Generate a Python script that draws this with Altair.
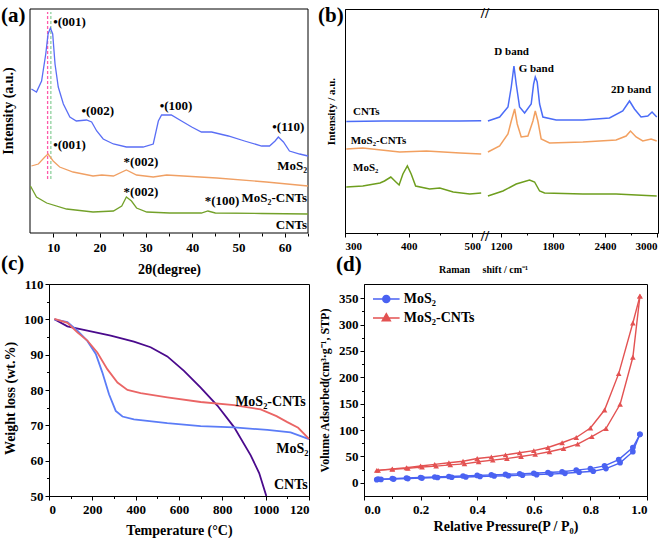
import altair as alt
import pandas as pd

SERIF = "Liberation Serif"

# ---------------- (a) XRD patterns ----------------
xrd_x_mos2 = [5.3, 6.4, 7.5, 8.4, 8.9, 9.4, 9.9, 10.4, 11.1, 12.2, 13.6, 15.0, 17.2, 18.3, 19.4, 20.8, 23.0, 25.8, 29.4, 31.6, 32.7, 33.4, 35.5, 37.7, 39.9, 42.0, 44.2, 47.8, 51.3, 55.0, 56.7, 57.9, 58.6, 59.7, 61.0, 63.2, 65.0]
xrd_y_mos2 = [143, 140, 151, 178, 198, 204, 198, 168, 145, 128, 115, 111, 112, 110, 101, 93, 88, 85, 85, 88, 111, 117, 117, 111, 105, 100, 100, 96, 91, 86, 86, 91, 95, 90, 81, 78, 76]
xrd_x_comp = [5.3, 6.8, 8.2, 8.9, 10.0, 11.4, 14.3, 18.6, 20.5, 23.0, 25.8, 28.0, 31.6, 34.5, 45.3, 56.0, 65.0]
xrd_y_comp = [66, 68, 75, 78, 71, 65, 60, 56, 57, 56, 62, 57, 55, 57, 54, 50, 46]
xrd_x_cnt = [5.1, 6.4, 8.6, 12.9, 18.6, 23.0, 24.8, 25.8, 26.9, 28.0, 30.2, 35.1, 42.0, 43.4, 45.0, 55.0, 65.0]
xrd_y_cnt = [46, 35, 29, 23, 20, 21, 26, 35, 31, 24, 20, 19, 19, 21, 19, 18.5, 18]
xrd_ref_x = [8.8, 9.5]
xrd_ref_y = [53, 220]
xrd_peak_text = ["•(001)", "•(002)", "•(100)", "•(110)", "•(001)", "*(002)", "*(002)", "*(100)"]
xrd_peak_x = [10.0, 16.1, 33.0, 57.3, 10.0, 25.2, 25.2, 42.7]
xrd_peak_y = [210, 121, 126, 105, 87, 70, 40, 31]
xrd_names = ["MoS₂", "MoS₂-CNTs", "CNTs"]
xrd_name_x = [64.8, 64.8, 64.8]
xrd_name_y = [66, 34, 7]
xrd_domain_x = [5, 65]
xrd_domain_y = [-1, 223]

# ---------------- (b) Raman spectra ----------------
ram_cnt_lx = [302, 360, 420, 480, 514]
ram_cnt_ly = [110.5, 111, 111, 111, 111.3]
ram_cnt_rx = [1050, 1185, 1281, 1319, 1350, 1376, 1415, 1473, 1549, 1577, 1596, 1618, 1646, 1684, 1837, 2145, 2452, 2605, 2683, 2740, 2816, 2894, 2943, 2997]
ram_cnt_ry = [111, 115, 125, 145, 166, 148, 125, 119, 128, 148, 155, 150, 128, 115, 112, 112, 114, 121, 131, 123, 115, 116, 120, 115]
ram_comp_lx = [302, 328, 386, 428, 481, 514]
ram_comp_ly = [83, 84, 80, 81, 79, 78]
ram_comp_rx = [1050, 1185, 1281, 1319, 1358, 1388, 1434, 1511, 1569, 1596, 1626, 1664, 1761, 2145, 2528, 2644, 2694, 2759, 2836, 2932, 2997]
ram_comp_ry = [80, 86, 98, 111, 123, 108, 95, 96, 111, 121, 111, 93, 89, 90, 92, 96, 101, 95, 91, 93, 91]
ram_mos2_lx = [302, 328, 355, 362, 372, 380, 385, 391, 398, 404, 411, 433, 449, 470, 496, 514]
ram_mos2_ly = [45, 46, 49, 51, 55, 50, 47, 58, 66, 58, 46, 43, 44, 40, 38, 39]
ram_mos2_rx = [1050, 1223, 1376, 1530, 1588, 1646, 1703, 2145, 2528, 2997]
ram_mos2_ry = [36, 41, 48, 52, 50, 41, 39, 38, 38, 36]
ram_names = ["CNTs", "MoS₂-CNTs", "MoS₂"]
ram_name_x = [312.6, 309, 312.6]
ram_name_y = [120.5, 91, 64]
ram_band_text = ["D band", "G band", "2D band"]
ram_band_x = [1323, 1607, 2701]
ram_band_y = [180, 163, 142]
ram_break_x = [520, 520]
ram_break_y = [219, -4]

# ---------------- (c) TGA ----------------
tga_mos2_x = [25, 85, 131, 177, 216, 246, 277, 308, 339, 392, 546, 700, 854, 1008, 1115, 1200]
tga_mos2_y = [100, 99.2, 96.8, 93.9, 90.2, 85, 78.8, 74.1, 72.5, 71.7, 70.6, 69.8, 69.4, 68.7, 68.0, 66.1]
tga_comp_x = [25, 85, 131, 177, 223, 269, 316, 362, 423, 546, 700, 854, 977, 1050, 1100, 1150, 1200]
tga_comp_y = [100.1, 99.0, 96.3, 94.0, 90.6, 85.9, 82.1, 80.0, 79.1, 77.9, 76.6, 75.7, 74.5, 72.6, 70.9, 69.3, 66.2]
tga_cnt_x = [25, 85, 177, 285, 392, 469, 546, 623, 700, 777, 854, 931, 970, 1003]
tga_cnt_y = [100, 98, 96.8, 95.4, 93.7, 92.1, 89.5, 85.4, 80.7, 75.6, 69.5, 61.5, 56.5, 50]
tga_names = ["MoS₂-CNTs", "MoS₂", "CNTs"]
tga_name_x = [1185, 1198, 1194]
tga_name_y = [76.5, 63.4, 53]

# ---------------- (d) N2 isotherms ----------------
bet_mos2_ads_p = [0.045, 0.06, 0.105, 0.155, 0.205, 0.26, 0.31, 0.36, 0.41, 0.46, 0.51, 0.56, 0.61, 0.66, 0.71, 0.76, 0.81, 0.855, 0.905, 0.95, 0.975]
bet_mos2_ads_v = [6, 6.5, 7, 8, 9, 10, 10.5, 11, 12, 13, 13.5, 14.5, 15.5, 16.5, 18, 20, 22, 27, 38, 59, 92]
bet_mos2_des_p = [0.975, 0.95, 0.9, 0.85, 0.8, 0.75, 0.7, 0.65, 0.6, 0.55, 0.5, 0.45, 0.4, 0.35, 0.3, 0.25, 0.2, 0.15, 0.1, 0.05]
bet_mos2_des_v = [92, 67, 44, 32, 27, 24, 21, 19.5, 18, 17, 16, 15, 14, 13, 12, 11, 10, 9, 8, 7]
bet_comp_ads_p = [0.045, 0.1, 0.155, 0.205, 0.255, 0.305, 0.355, 0.405, 0.455, 0.505, 0.555, 0.605, 0.655, 0.705, 0.755, 0.805, 0.855, 0.905, 0.95, 0.975]
bet_comp_ads_v = [23.5, 25.4, 27.3, 30, 31.6, 34, 36, 40, 43, 46, 50, 54, 59, 65, 73.5, 87.5, 103, 149, 238, 354]
bet_comp_des_p = [0.975, 0.95, 0.9, 0.85, 0.8, 0.75, 0.7, 0.65, 0.6, 0.55, 0.5, 0.45, 0.4, 0.35, 0.3, 0.25, 0.2, 0.15, 0.1, 0.05]
bet_comp_des_v = [354, 303, 207, 138, 104, 86, 76, 67, 61, 57, 53, 49, 46, 41, 38, 35, 32, 28.5, 26.5, 23.5]

# colours
A_BLUE, A_ORANGE, A_GREEN = "#5a6ef5", "#f0a064", "#73a12a"
B_BLUE, B_ORANGE, B_GREEN = "#4b6cf7", "#f2a060", "#6e9e1e"
C_BLUE, C_RED, C_PURPLE = "#5b7cf7", "#ea6565", "#4a0a8c"
D_BLUE, D_RED = "#4a62f2", "#e35252"


def ticksize(test, big, small):
    return {"condition": {"test": test, "value": big}, "value": small}


def line_layer(xs, ys, color, xenc, yenc, width=1.3, segs=None, clip=False):
    df = pd.DataFrame({"x": xs, "y": ys, "i": list(range(len(xs)))})
    enc = dict(x=xenc, y=yenc, order="i:Q")
    if segs is not None:
        df["seg"] = segs
        enc["detail"] = "seg:N"
    return alt.Chart(df).mark_line(color=color, strokeWidth=width, clip=clip).encode(**enc)


def text_layer(texts, xs, ys, xenc, yenc, size, align="left", baseline="middle"):
    df = pd.DataFrame({"x": xs, "y": ys, "t": texts})
    return alt.Chart(df).mark_text(font=SERIF, fontWeight="bold", fontSize=size, align=align,
                                   baseline=baseline, color="black").encode(x=xenc, y=yenc, text="t:N")


def panel_label(txt, px, py, size=21, angle=0, align="left"):
    df = pd.DataFrame({"t": [txt]})
    return alt.Chart(df).mark_text(font=SERIF, fontWeight="bold", fontSize=size, align=align, angle=angle,
                                   baseline="middle", color="black").encode(
        text="t:N", x=alt.value(px), y=alt.value(py))


# ================= panel (a) =================
# The view starts 19 px right of the frame so that both rows line up; the x scale keeps going
# (unclamped) to the left of the view, where the frame is drawn.
A_W = 278
A_SHIFT = 19
a_view_start = xrd_domain_x[0] + (xrd_domain_x[1] - xrd_domain_x[0]) * A_SHIFT / A_W
sx_a = alt.Scale(domain=[a_view_start, xrd_domain_x[1]], nice=False, zero=False)
sy_a = alt.Scale(domain=xrd_domain_y, nice=False, zero=False)
ax_a = alt.Axis(values=list(range(5, 66, 5)),
                labelExpr="datum.value % 10 == 0 && datum.value < 65 ? datum.label : ''",
                title="2θ(degree)", titleFontSize=14, labelFontSize=13, domain=False,
                tickSize=ticksize("datum.value % 10 == 0", 4, 3), labelPadding=4,
                titleX=139 - A_SHIFT, titleY=36, titleBaseline="middle")
xa = alt.X("x:Q", scale=sx_a, axis=ax_a)
ya = alt.Y("y:Q", scale=sy_a, axis=None)

ref_layers = []
for xv, col in zip(xrd_ref_x, ["#ff5aaa", "#8fd19e"]):
    rdf = pd.DataFrame({"x": [xv], "y": [xrd_ref_y[0]], "y2": [xrd_ref_y[1]]})
    ref_layers.append(alt.Chart(rdf).mark_rule(color=col, strokeDash=[3, 2], strokeWidth=1.3).encode(
        x=xa, y=ya, y2="y2:Q"))

# the four edges of the plot frame, at the scale-domain limits
hedge = alt.Chart(pd.DataFrame({"x": [xrd_domain_x[0]] * 2, "x2": [xrd_domain_x[1]] * 2, "y": xrd_domain_y})
                  ).mark_rule(color="black", strokeWidth=1).encode(x=xa, x2="x2:Q", y=ya)
vedge = alt.Chart(pd.DataFrame({"x": xrd_domain_x, "y": [xrd_domain_y[0]] * 2, "y2": [xrd_domain_y[1]] * 2})
                  ).mark_rule(color="black", strokeWidth=1).encode(x=xa, y=ya, y2="y2:Q")

panel_a = alt.layer(
    hedge, vedge,
    *ref_layers,
    line_layer(xrd_x_mos2, xrd_y_mos2, A_BLUE, xa, ya),
    line_layer(xrd_x_comp, xrd_y_comp, A_ORANGE, xa, ya),
    line_layer(xrd_x_cnt, xrd_y_cnt, A_GREEN, xa, ya),
    text_layer(xrd_peak_text, xrd_peak_x, xrd_peak_y, xa, ya, 13),
    text_layer(xrd_names, xrd_name_x, xrd_name_y, xa, ya, 13, align="right"),
    panel_label("Intensity (a.u.)", -40, 102, size=14, angle=270, align="center"),
    panel_label("(a)", -48, 7),
    panel_label("(c)", -48, 255),
).properties(width=A_W - A_SHIFT, height=224, view=alt.ViewBackground(stroke="transparent"))

# ================= panel (b) =================
b_ticks = [300, 350, 400, 450, 500, 1200, 1500, 1800, 2100, 2400, 2700, 3000]
b_major_test = "indexof([300,400,500,1200,1800,2400,3000], datum.value) >= 0"
NB = "\u00a0"
ax_b = alt.Axis(values=b_ticks, format="d",
                labelExpr=b_major_test + " ? datum.label : ''",
                tickSize=ticksize(b_major_test, 4, 2),
                labelFontSize=11, labelPadding=3,
                title="Raman" + NB * 5 + "shift / cm⁻¹", titleFontSize=10, titleX=138, titleY=36,
                titleBaseline="middle")
ay_b = alt.Axis(labels=False, ticks=False, title="Intensity / a.u.", titleFontSize=11,
                titleX=-14, titleY=102, titleAngle=270, titleBaseline="middle", titleAlign="center")
xb = alt.X("x:Q", scale=alt.Scale(domain=[300, 520, 1045, 3000], range=[0, 140, 142.5, 312], nice=False, zero=False), axis=ax_b)
yb = alt.Y("y:Q", scale=alt.Scale(domain=[-1, 223], nice=False, zero=False), axis=ay_b)


def seg_line(lx, ly, rx, ry, color):
    return line_layer(lx + rx, ly + ry, color, xb, yb, width=1.5,
                      segs=["L"] * len(lx) + ["R"] * len(rx))


panel_b = alt.layer(
    seg_line(ram_cnt_lx, ram_cnt_ly, ram_cnt_rx, ram_cnt_ry, B_BLUE),
    seg_line(ram_comp_lx, ram_comp_ly, ram_comp_rx, ram_comp_ry, B_ORANGE),
    seg_line(ram_mos2_lx, ram_mos2_ly, ram_mos2_rx, ram_mos2_ry, B_GREEN),
    text_layer(ram_names, ram_name_x, ram_name_y, xb, yb, 11),
    text_layer(ram_band_text, ram_band_x, ram_band_y, xb, yb, 11, align="center"),
    text_layer(["//", "//"], ram_break_x, ram_break_y, xb, yb, 15, align="center"),
    panel_label("(b)", -27, 7),
    panel_label("(d)", -9, 256),
).properties(width=313, height=224)

# ================= panel (c) =================
ax_c = alt.Axis(values=list(range(0, 1201, 100)), format="d",
                labelExpr="datum.value % 200 == 0 ? (datum.value == 1200 ? '120' : datum.label) : ''",
                tickSize=ticksize("datum.value % 200 == 0", 4, 2.5), labelFontSize=13, labelPadding=3,
                title="Temperature (°C)", titleFontSize=14, titleY=34, titleBaseline="middle")
ay_c = alt.Axis(values=list(range(50, 111, 5)), format="d",
                labelExpr="datum.value % 10 == 0 ? datum.label : ''",
                tickSize=ticksize("datum.value % 10 == 0", 4, 2.5), labelFontSize=13, labelPadding=2,
                title="Weight loss (wt.%)", titleFontSize=14, titleX=-39, titleY=114, titleAngle=270,
                titleBaseline="middle", titleAlign="center")
xc = alt.X("x:Q", scale=alt.Scale(domain=[0, 1200], nice=False, zero=False), axis=ax_c)
yc = alt.Y("y:Q", scale=alt.Scale(domain=[50, 110], nice=False, zero=False), axis=ay_c)

panel_c = alt.layer(
    line_layer(tga_cnt_x, tga_cnt_y, C_PURPLE, xc, yc, width=1.8, clip=True),
    line_layer(tga_mos2_x, tga_mos2_y, C_BLUE, xc, yc, width=1.8),
    line_layer(tga_comp_x, tga_comp_y, C_RED, xc, yc, width=1.8),
    text_layer(tga_names, tga_name_x, tga_name_y, xc, yc, 14, align="right"),
).properties(width=260, height=212)

# ================= panel (d) =================
d_x_ticks = [round(i * 0.1, 1) for i in range(11)]
ax_d = alt.Axis(values=d_x_ticks,
                labelExpr="round(datum.value * 10) % 2 == 0 ? format(datum.value, '.1f') : ''",
                tickSize=ticksize("round(datum.value * 10) % 2 == 0", 4, 2.5), labelFontSize=13, labelPadding=3,
                title="Relative Pressure(P / P₀)", titleFontSize=14, titleY=30, titleBaseline="middle")
ay_d = alt.Axis(values=list(range(0, 351, 25)), format="d",
                labelExpr="datum.value % 50 == 0 ? datum.label : ''",
                tickSize=ticksize("datum.value % 50 == 0", 4, 2.5), labelFontSize=13, labelPadding=2,
                title="Volume Adsorbed(cm³·g⁻¹, STP)", titleFontSize=12, titleX=-40, titleAngle=270,
                titleBaseline="middle", titleAlign="center")
xd = alt.X("p:Q", scale=alt.Scale(domain=[0, 1.0], nice=False, zero=False), axis=ax_d)
yd = alt.Y("v:Q", scale=alt.Scale(domain=[-25, 377], nice=False, zero=False), axis=ay_d)

circ_path = "M-1.4,0L1.4,0M0.37,0A0.37,0.37,0,1,1,-0.37,0A0.37,0.37,0,1,1,0.37,0Z"
tri_path = "M-1.4,0L1.4,0M0,-0.45L0.42,0.3L-0.42,0.3Z"


def bet_group(name, ads_p, ads_v, des_p, des_v, color, mshape, path, ly):
    df = pd.DataFrame({
        "p": ads_p + des_p,
        "v": ads_v + des_v,
        "series": [name] * (len(ads_p) + len(des_p)),
        "branch": ["ads"] * len(ads_p) + ["des"] * len(des_p),
    })
    leg = alt.Legend(title=None, orient="none", legendX=11.8, legendY=ly, padding=0,
                     labelFont=SERIF, labelFontSize=14, labelFontWeight="bold", labelColor="black",
                     symbolType=path, symbolSize=361, symbolFillColor=color, symbolStrokeColor=color,
                     symbolStrokeWidth=1.5, symbolOpacity=1, labelOffset=7)
    col = alt.Color("series:N", scale=alt.Scale(domain=[name], range=[color]), legend=leg)
    pts = alt.Chart(df).mark_point(filled=True, size=32, shape=mshape, opacity=1).encode(x=xd, y=yd, color=col)
    line = alt.Chart(df).mark_line(strokeWidth=1.4).encode(x=xd, y=yd, color=col, detail="branch:N", order="p:Q")
    return alt.layer(line, pts)


panel_d = alt.layer(
    bet_group("MoS₂", bet_mos2_ads_p, bet_mos2_ads_v, bet_mos2_des_p, bet_mos2_des_v, D_BLUE, "circle", circ_path, 4.5),
    bet_group("MoS₂-CNTs", bet_comp_ads_p, bet_comp_ads_v, bet_comp_des_p, bet_comp_des_v, D_RED, "triangle-up", tri_path, 23.5),
).resolve_scale(color="independent").resolve_legend(color="independent").properties(width=283, height=212)

chart = alt.concat(
    panel_a, panel_b, panel_c, panel_d,
    columns=2,
    spacing={"row": 0, "column": 3},
    align={"row": "each", "column": "none"},
).properties(
    padding={"left": 0, "top": 4, "right": 0, "bottom": 0}
).configure_view(stroke="black", strokeWidth=1).configure_axis(
    labelFont=SERIF, titleFont=SERIF, labelFontWeight="bold", titleFontWeight="bold",
    labelColor="black", titleColor="black", domainColor="black", tickColor="black",
    grid=False, domainWidth=1, tickWidth=1
)

chart.save("out.html", embed_options={"renderer": "svg", "actions": False})
